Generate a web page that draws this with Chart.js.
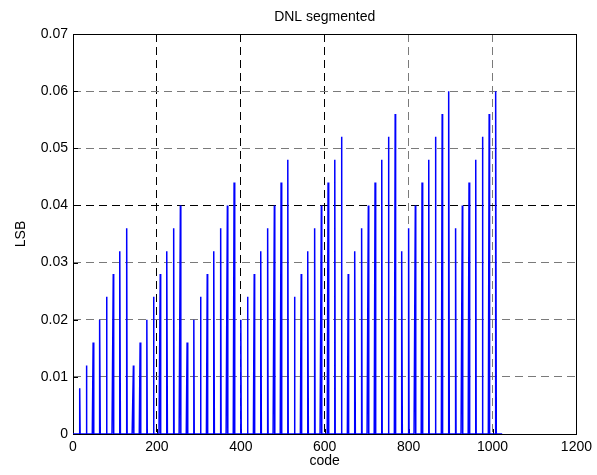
<!DOCTYPE html>
<html>
<head>
<meta charset="utf-8">
<title>DNL segmented</title>
<script src="https://cdn.jsdelivr.net/npm/chart.js@4.4.1/dist/chart.umd.min.js"></script>
<style>
    html, body { margin: 0; padding: 0; background: #fff; }
    #wrap { width: 597px; height: 475px; }
</style>
</head>
<body>
<div id="wrap"><canvas id="dnl-chart"></canvas></div>
<script>
// Codes where the segmented converter shows a DNL step
var spikeCodes = [
    16, 32, 48, 64, 80, 96, 112, 128,
    144, 160, 176, 192, 208, 224, 240, 256,
    272, 288, 304, 320, 336, 352, 368, 384,
    400, 416, 432, 448, 464, 480, 496, 512,
    528, 544, 560, 576, 592, 608, 624, 640,
    656, 672, 688, 704, 720, 736, 752, 768,
    784, 800, 816, 832, 848, 864, 880, 896,
    912, 928, 944, 960, 976, 992, 1008
];
// DNL at those codes, in LSB
var spikeLsb = [
    0.008, 0.012, 0.016, 0.020, 0.024, 0.028, 0.032, 0.036,
    0.012, 0.016, 0.020, 0.024, 0.028, 0.032, 0.036, 0.040,
    0.016, 0.020, 0.024, 0.028, 0.032, 0.036, 0.040, 0.044,
    0.020, 0.024, 0.028, 0.032, 0.036, 0.040, 0.044, 0.048,
    0.024, 0.028, 0.032, 0.036, 0.040, 0.044, 0.048, 0.052,
    0.028, 0.032, 0.036, 0.040, 0.044, 0.048, 0.052, 0.056,
    0.032, 0.036, 0.040, 0.044, 0.048, 0.052, 0.056, 0.060,
    0.036, 0.040, 0.044, 0.048, 0.052, 0.056, 0.060
];
var codeCount = 1024;
var xTicks = [0, 200, 400, 600, 800, 1000, 1200];
var yTicks = [0, 0.01, 0.02, 0.03, 0.04, 0.05, 0.06, 0.07];

// grid lines that come out darker
var darkX = [200, 400, 600];
var darkY = [0.04];

var font = { family: "'Liberation Sans', Arial, sans-serif", size: 14 };

// one point per code, zero everywhere except the step codes
var dnlPoints = [];
for (var c = 0; c < codeCount; c++) {
    var k = spikeCodes.indexOf(c);
    dnlPoints.push({ x: c, y: k >= 0 ? spikeLsb[k] : 0 });
}

function gridColor(list) {
    return function (ctx) {
        var v = ctx.tick ? ctx.tick.value : null;
        for (var i = 0; i < list.length; i++) {
            if (Math.abs(list[i] - v) < 1e-9) return '#000';
        }
        return '#7a7a7a';
    };
}

// axes box with small inward ticks
var frame = {
    id: 'frame',
    beforeDatasetsDraw: function (chart) {
        var a = chart.chartArea;
        var ctx = chart.ctx;
        var xs = chart.scales.x, ys = chart.scales.y;
        ctx.save();
        ctx.strokeStyle = '#000';
        ctx.lineWidth = 1;
        ctx.setLineDash([]);
        ctx.strokeRect(Math.round(a.left) + 0.5, Math.round(a.top) + 0.5,
            Math.round(a.right - a.left), Math.round(a.bottom - a.top));
        ctx.beginPath();
        xTicks.forEach(function (v) {
            var px = Math.round(xs.getPixelForValue(v)) + 0.5;
            ctx.moveTo(px, a.bottom);
            ctx.lineTo(px, a.bottom - 5);
        });
        yTicks.forEach(function (v) {
            var py = Math.round(ys.getPixelForValue(v)) + 0.5;
            ctx.moveTo(a.left, py);
            ctx.lineTo(a.left + 5, py);
        });
        ctx.stroke();
        ctx.restore();
    }
};

// title centred over the plot area rather than the whole canvas
var plotTitle = {
    id: 'plotTitle',
    afterDraw: function (chart) {
        var a = chart.chartArea;
        var ctx = chart.ctx;
        ctx.save();
        ctx.fillStyle = '#000';
        ctx.font = font.size + 'px ' + font.family;
        ctx.textAlign = 'center';
        ctx.textBaseline = 'middle';
        ctx.fillText('DNL segmented', (a.left + a.right) / 2, 17.4);
        ctx.restore();
    }
};

var ctx = document.getElementById('dnl-chart').getContext('2d');
var chart = new Chart(ctx, {
    type: 'line',
    data: {
        datasets: [{
            label: 'DNL',
            data: dnlPoints,
            borderColor: '#0000ff',
            borderWidth: 1.5,
            pointRadius: 0,
            tension: 0,
            fill: false
        }]
    },
    options: {
        animation: false,
        responsive: true,
        maintainAspectRatio: false,
        layout: { padding: { left: 0, right: 19, top: 34, bottom: 0 } },
        plugins: {
            legend: { display: false },
            tooltip: { enabled: false },
            title: { display: false }
        },
        scales: {
            x: {
                type: 'linear',
                min: 0,
                max: 1200,
                afterBuildTicks: function (scale) {
                    scale.ticks = xTicks.map(function (v) { return { value: v }; });
                },
                afterFit: function (scale) { scale.height = 41; },
                grid: { color: gridColor(darkX), lineWidth: 1, drawTicks: false },
                border: { display: false, dash: [8, 5] },
                ticks: {
                    color: '#000',
                    font: font,
                    padding: 5,
                    maxRotation: 0,
                    callback: function (v) { return String(v); }
                },
                title: {
                    display: true,
                    text: 'code',
                    color: '#000',
                    font: font,
                    padding: { top: 0, bottom: 5 }
                }
            },
            y: {
                type: 'linear',
                min: 0,
                max: 0.07,
                afterBuildTicks: function (scale) {
                    scale.ticks = yTicks.map(function (v) { return { value: v }; });
                },
                afterFit: function (scale) { scale.width = 73; },
                grid: { color: gridColor(darkY), lineWidth: 1, drawTicks: false },
                border: { display: false, dash: [8, 5] },
                ticks: {
                    color: '#000',
                    font: font,
                    padding: 5,
                    callback: function (v) { return v === 0 ? '0' : v.toFixed(2); }
                },
                title: {
                    display: true,
                    text: 'LSB',
                    color: '#000',
                    font: font,
                    padding: { top: 12.6, bottom: 0 }
                }
            }
        }
    },
    plugins: [frame, plotTitle]
});
</script>
</body>
</html>
